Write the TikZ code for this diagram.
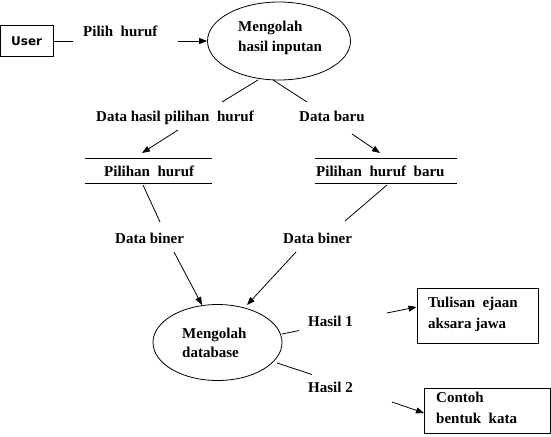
\documentclass[tikz,border=0pt]{standalone}
\usepackage{fontspec}
\setmainfont{Liberation Serif}
\newfontfamily\usersans{DejaVu Sans}
\usetikzlibrary{shapes.geometric,arrows.meta}
\tikzset{
  ln/.style={line width=0.8pt},
  arr/.style={line width=0.8pt,-{Triangle[length=8pt,width=6pt]}},
  lbl/.style={anchor=base west,inner sep=0pt,font=\fontsize{15}{17}\selectfont\bfseries},
  proc/.style={draw,ellipse,line width=0.8pt,inner sep=0pt},
  ext/.style={draw,rectangle,line width=0.8pt,inner sep=0pt},
}
\begin{document}
\begin{tikzpicture}[x=1pt,y=-1pt]
\useasboundingbox (0,0) rectangle (551,436);
% external entities
\node[ext,minimum width=53pt,minimum height=31pt] (user) at (26.5,41) {};
\node[anchor=base west,inner sep=0pt,font=\usersans\bfseries\fontsize{12}{14}\selectfont] (usert) at (11,46) {User};
\node[ext,minimum width=121pt,minimum height=55pt] (tul) at (477.5,315.5) {};
\node[ext,minimum width=126pt,minimum height=45pt] (con) at (487,410.5) {};
\node[lbl] (tul1) at (428,307) {Tulisan~ ejaan};
\node[lbl] (tul2) at (428,328) {aksara jawa};
\node[lbl] (con1) at (436,402) {Contoh};
\node[lbl] (con2) at (436,423) {bentuk~ kata};
% processes
\node[proc,minimum width=143pt,minimum height=78pt] (p1) at (279,41) {};
\node[lbl] (p1a) at (238,32) {Mengolah};
\node[lbl] (p1b) at (238,52) {hasil inputan};
\node[proc,minimum width=129pt,minimum height=76pt] (p2) at (217.5,342.5) {};
\node[lbl] (p2a) at (182,338) {Mengolah};
\node[lbl] (p2b) at (182,357) {database};
% data stores
\coordinate (s1a) at (85,158); \coordinate (s1b) at (212,158);
\coordinate (s1c) at (85,183); \coordinate (s1d) at (212,183);
\coordinate (s2a) at (315,158); \coordinate (s2b) at (457,158);
\coordinate (s2c) at (315,183); \coordinate (s2d) at (457,183);
\draw[ln] (s1a) -- (s1b); \draw[ln] (s1c) -- (s1d);
\draw[ln] (s2a) -- (s2b); \draw[ln] (s2c) -- (s2d);
\node[lbl] (st1) at (104,176) {Pilihan~ huruf};
\node[lbl] (st2) at (316,176) {Pilihan~ huruf~ baru};
% labels
\node[lbl] (l1) at (83,37) {Pilih~ huruf};
\node[lbl] (l2) at (96,121) {Data hasil pilihan~ huruf};
\node[lbl] (l3) at (299,121) {Data baru};
\node[lbl] (l4) at (115,243) {Data biner};
\node[lbl] (l5) at (283,243) {Data biner};
\node[lbl] (l6) at (308,326) {Hasil 1};
\node[lbl] (l7) at (308,392) {Hasil 2};
% connector end points
\coordinate (a1) at (73,41); \coordinate (a2) at (178,41);
\coordinate (b1) at (258,80); \coordinate (b2) at (222,102);
\coordinate (b3) at (273,80); \coordinate (b4) at (307,102);
\coordinate (c1) at (178,130); \coordinate (c2) at (142,153);
\coordinate (c3) at (352,134); \coordinate (c4) at (380,153);
\coordinate (d1) at (143,185); \coordinate (d2) at (160,222);
\coordinate (d3) at (387,185); \coordinate (d4) at (345,221);
\coordinate (e1) at (174,252); \coordinate (e2) at (202,305);
\coordinate (e3) at (296,252); \coordinate (e4) at (247,305);
\coordinate (f1) at (282,334); \coordinate (f2) at (299,330.5);
\coordinate (f3) at (387,313); \coordinate (f4) at (416.5,307);
\coordinate (g1) at (277,363); \coordinate (g2) at (312,374.5);
\coordinate (g3) at (392,402); \coordinate (g4) at (424,413);
% connectors
\draw[ln] (user.east) -- (a1);
\draw[arr] (a2) -- (p1.west);
\draw[ln] (b1) -- (b2);
\draw[ln] (b3) -- (b4);
\draw[arr] (c1) -- (c2);
\draw[arr] (c3) -- (c4);
\draw[ln] (d1) -- (d2);
\draw[ln] (d3) -- (d4);
\draw[arr] (e1) -- (e2);
\draw[arr] (e3) -- (e4);
\draw[ln] (f1) -- (f2);
\draw[arr] (f3) -- (f4);
\draw[ln] (g1) -- (g2);
\draw[arr] (g3) -- (g4);
\end{tikzpicture}
\end{document}
